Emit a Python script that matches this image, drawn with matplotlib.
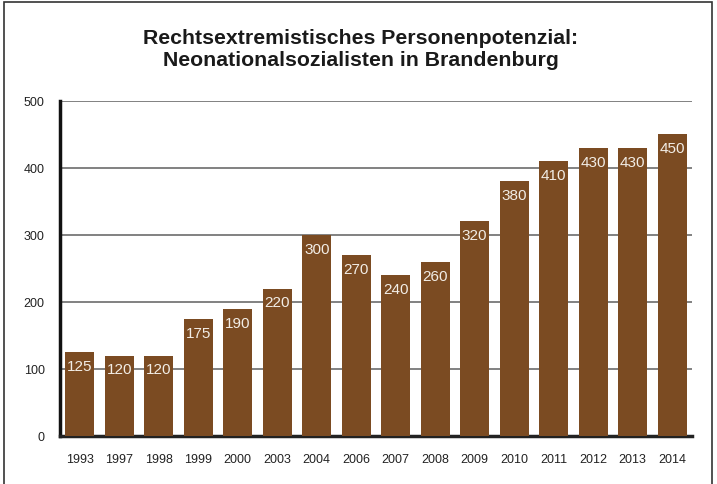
import matplotlib.pyplot as plt
from matplotlib.patches import Rectangle

plt.rcParams['font.family'] = ['Liberation Sans', 'DejaVu Sans']

jahre = ["1993", "1997", "1998", "1999", "2000", "2003", "2004", "2006",
         "2007", "2008", "2009", "2010", "2011", "2012", "2013", "2014"]
personen = [125, 120, 120, 175, 190, 220, 300, 270, 240, 260, 320, 380, 410, 430, 430, 450]
y_ticks = [0, 100, 200, 300, 400, 500]

fig = plt.figure(figsize=(7.17, 4.85), dpi=100)
ax = fig.add_axes([0.0837, 0.099, 0.8813, 0.691])

# rahmen um das ganze bild
fig.patches.append(Rectangle((0.0056, -0.05), 0.988, 1.044, transform=fig.transFigure,
                             fill=False, edgecolor="#333333", linewidth=1.2))

x = list(range(len(jahre)))
bars = ax.bar(x, personen, width=0.74, color="#7B4B22", zorder=3)

for b, v in zip(bars, personen):
    ax.annotate(str(v), (b.get_x() + b.get_width() / 2, v), xytext=(0, -10),
                textcoords="offset points", ha="center", va="center",
                color="#F2EDE6", fontsize=11, zorder=4)

ax.set_xlim(-0.5, 15.5)
ax.set_ylim(0, 500)
ax.set_yticks(y_ticks)
ax.set_yticklabels([str(t) for t in y_ticks], fontsize=9)
ax.set_xticks(x)
ax.set_xticklabels(jahre, fontsize=9)
ax.tick_params(length=0, labelcolor="#222222")
ax.tick_params(axis="x", pad=12)
ax.tick_params(axis="y", pad=11)

ax.yaxis.grid(True, color="#777777", linewidth=1.3, zorder=1)

ax.spines["top"].set_visible(False)
ax.spines["right"].set_visible(False)
ax.spines["left"].set_linewidth(2.5)
ax.spines["bottom"].set_linewidth(2.5)
ax.spines["left"].set_color("#111111")
ax.spines["bottom"].set_color("#222222")

fig.text(0.503, 0.898, "Rechtsextremistisches Personenpotenzial:\nNeonationalsozialisten in Brandenburg",
         ha="center", va="center", fontsize=15.3, fontweight="bold", color="#1a1a1a",
         linespacing=1.25)

fig.savefig("out.png", dpi=100)
